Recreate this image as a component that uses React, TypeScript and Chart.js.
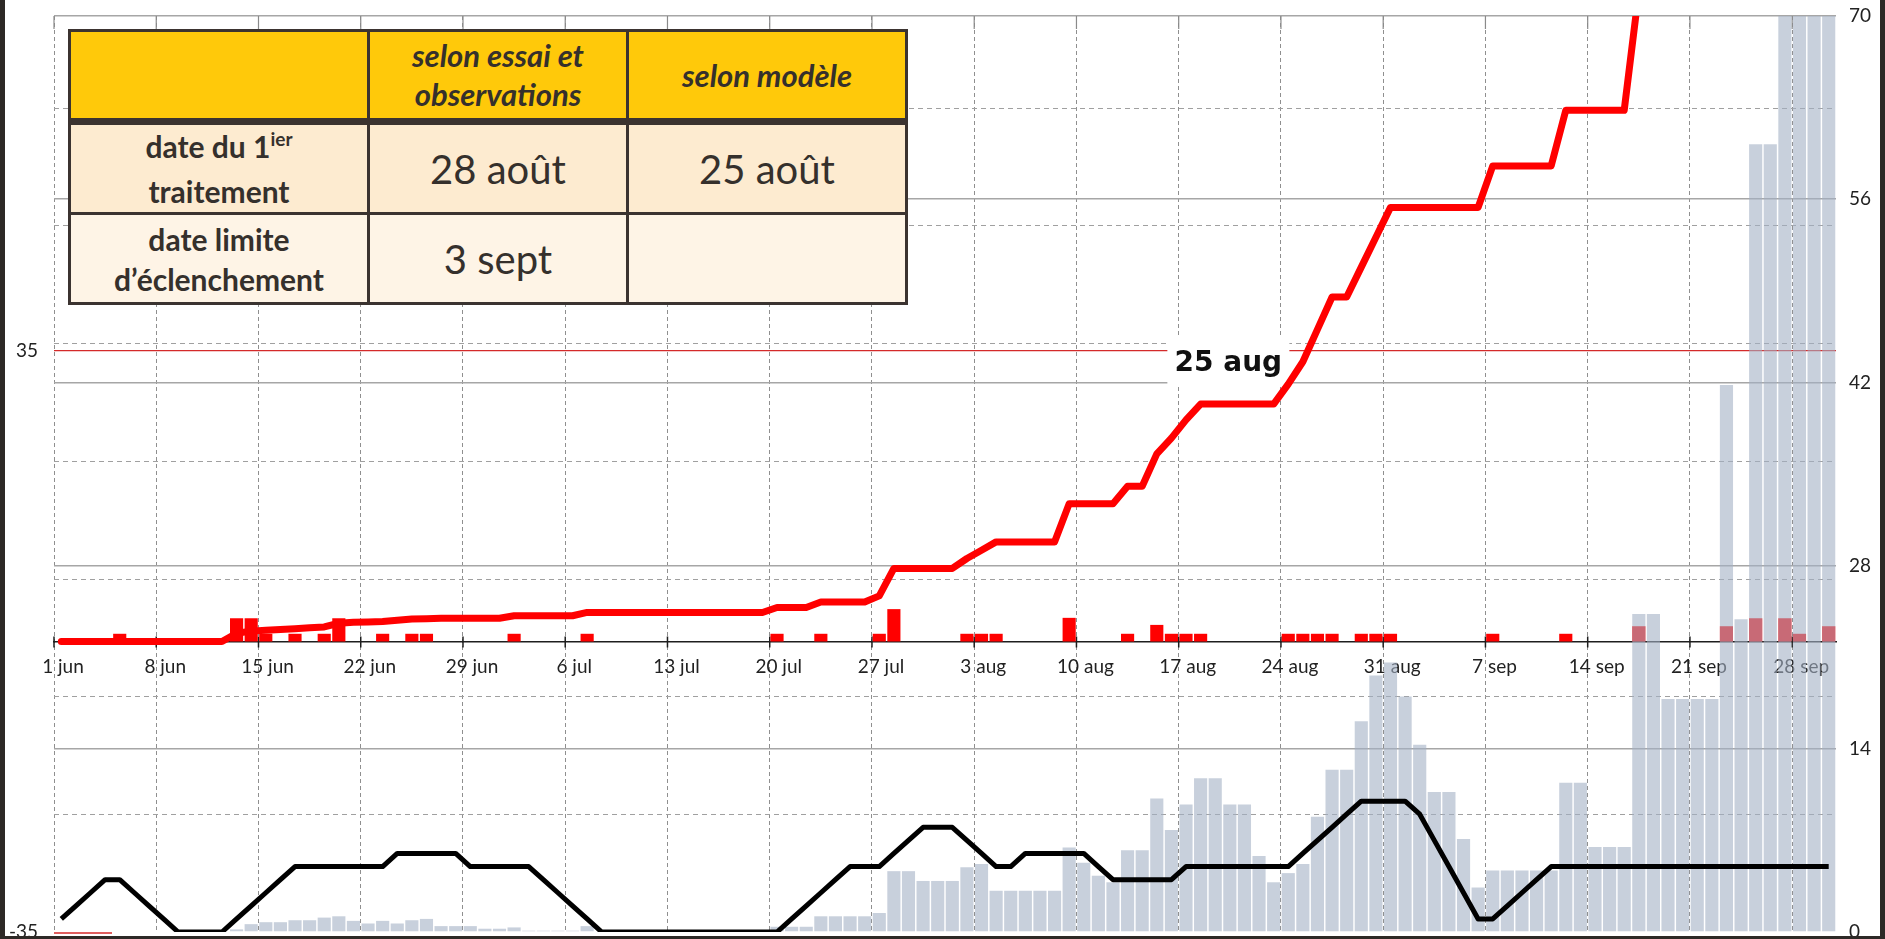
import React, { useEffect, useRef } from "react";
import { Chart, registerables } from "chart.js";

Chart.register(...registerables);

const W = 1885;
const H = 939;

// x axis: day index, 0 = 1 jun ... 121 = 30 sep
const DAY_COUNT = 122;
const TICK_DAYS = [0, 7, 14, 21, 28, 35, 42, 49, 56, 63, 70, 77, 84, 91, 98, 105, 112, 119];
const TICK_LABELS = ["1 jun", "8 jun", "15 jun", "22 jun", "29 jun", "6 jul", "13 jul", "20 jul", "27 jul", "3 aug", "10 aug", "17 aug", "24 aug", "31 aug", "7 sep", "14 sep", "21 sep", "28 sep"];
const RIGHT_TICKS = [0, 14, 28, 42, 56, 70];
const LEFT_TICKS = [-35, 35];
const MINOR_LEVELS = [9, 18, 27, 36, 45, 54, 63];
const THRESHOLD = 35;
const THRESHOLD_LABEL = "25 aug";
const THRESHOLD_LABEL_DAY = 80.4;

// cumulative index (left axis), one value per day
const RED_CUMUL: (number | null)[] = [
  0, 0, 0, 0, 0, 0, 0, 0, 0, 0, 0, 0,
  1.0, 1.25, 1.35, 1.45, 1.55, 1.65, 1.75, 2.2,
  2.33, 2.35, 2.4, 2.55, 2.7, 2.75, 2.8, 2.8, 2.8, 2.8, 2.8,
  3.1, 3.1, 3.1, 3.1, 3.1,
  3.5, 3.5, 3.5, 3.5, 3.5, 3.5, 3.5, 3.5, 3.5, 3.5, 3.5, 3.5, 3.5,
  4.1, 4.1, 4.1,
  4.75, 4.75, 4.75, 4.75,
  5.5,
  8.8, 8.8, 8.8, 8.8, 8.8,
  10.0, 11.0,
  12, 12, 12, 12, 12,
  16.6, 16.6, 16.6, 16.6,
  18.7, 18.7,
  22.6, 24.5, 26.7,
  28.6, 28.6, 28.6, 28.6, 28.6, 28.6,
  31.0, 33.7, 37.6,
  41.5, 41.5,
  45.1, 48.7,
  52.3, 52.3, 52.3, 52.3, 52.3, 52.3, 52.3,
  57.3, 57.3, 57.3, 57.3, 57.3,
  64, 64, 64, 64, 64,
  78.3,
  null, null, null, null, null, null, null, null, null, null, null, null, null,
];

// daily red events (left axis)
const RAIN_DAYS = [4, 12, 13, 14, 16, 18, 19, 22, 24, 25, 31, 36, 49, 52, 56, 57, 62, 63, 64, 69, 73, 75, 76, 77, 78, 84, 85, 86, 87, 89, 90, 91, 98, 103, 108, 114, 116, 118, 119, 121];
const RAIN_VALUES = [0.93, 2.8, 2.8, 0.93, 0.93, 0.93, 2.8, 0.93, 0.93, 0.93, 0.93, 0.93, 0.93, 0.93, 0.93, 3.9, 0.93, 0.93, 0.93, 2.85, 0.93, 2.0, 0.93, 0.93, 0.93, 0.93, 0.93, 0.93, 0.93, 0.93, 0.93, 0.93, 0.93, 0.93, 1.84, 1.84, 2.8, 2.8, 0.93, 1.84];

// daily grey bars (right axis)
const GREY_BARS = [
  0, 0, 0, 0, 0, 0, 0, 0, 0, 0, 0, 0,
  0.2, 0.6, 0.75, 0.75, 0.9, 0.9, 1.1, 1.2, 0.85, 0.65, 0.85, 0.65, 0.9, 1.0, 0.45, 0.45, 0.45, 0.25, 0.25, 0.35, 0.1, 0.1, 0.1, 0.1, 0.45,
  0, 0, 0, 0, 0, 0, 0, 0, 0, 0, 0, 0,
  0.4, 0.4, 0.4, 1.2, 1.2, 1.2, 1.2, 1.45,
  4.65, 4.65, 3.9, 3.9, 3.9, 4.95, 5.2,
  3.15, 3.15, 3.15, 3.15, 3.15,
  6.45, 5.3, 4.3, 3.8,
  6.25, 6.25, 10.2, 7.8, 9.75, 11.75, 11.75, 9.75, 9.75, 5.8, 3.8, 4.5, 5.2, 8.8, 12.4, 12.4,
  16.1, 19.6, 20.6, 18.0, 14.3, 10.7, 10.7, 7.1, 3.4,
  4.7, 4.7, 4.7, 4.7, 4.7,
  11.4, 11.4, 6.5, 6.5, 6.5,
  24.3, 24.3, 17.8, 17.8, 17.8, 17.8,
  41.8, 23.9, 60.2, 60.2, 70, 70, 70, 70,
];

// daily black line (right axis)
const BLACK_LINE = [
  1, 2, 3, 4, 4, 3, 2, 1, 0,
  0, 0, 0,
  1, 2, 3, 4, 5,
  5, 5, 5, 5, 5, 5,
  6, 6, 6, 6, 6,
  5, 5, 5, 5, 5,
  4, 3, 2, 1, 0,
  0, 0, 0, 0, 0, 0, 0, 0, 0, 0, 0, 0,
  1, 2, 3, 4, 5,
  5, 5,
  6, 7, 8,
  8, 8,
  7, 6, 5,
  5,
  6, 6, 6, 6, 6,
  5, 4,
  4, 4, 4, 4,
  5, 5, 5, 5, 5, 5, 5, 5,
  6, 7, 8, 9, 10,
  10, 10, 10,
  9, 7, 5, 3, 1,
  1, 2, 3, 4, 5,
  5, 5, 5, 5, 5, 5, 5, 5, 5, 5, 5, 5, 5, 5, 5, 5, 5, 5, 5,
];

const FONT = "Lato";
const TXT = "#35302c";

const overlay = {
  id: "overlay",
  beforeDatasetsDraw(chart: any) {
    const { ctx, chartArea: a, scales } = chart;
    const x = scales.x;
    const yl = scales.y;
    const yr = scales.y1;
    const line = (x1: number, y1: number, x2: number, y2: number) => {
      ctx.beginPath();
      ctx.moveTo(x1, y1);
      ctx.lineTo(x2, y2);
      ctx.stroke();
    };
    ctx.save();
    ctx.strokeStyle = "#a0a0a0";
    ctx.lineWidth = 1;
    ctx.setLineDash([5, 4]);
    for (const v of MINOR_LEVELS) {
      const py = Math.round(yr.getPixelForValue(v)) + 0.5;
      line(a.left, py, a.right, py);
    }
    ctx.setLineDash([]);
    ctx.strokeStyle = "#8a8a8a";
    ctx.lineWidth = 1.2;
    for (const d of TICK_DAYS) {
      const px = x.getPixelForValue(d);
      line(px, a.top, px, a.top + 13);
    }
    const y0 = yl.getPixelForValue(0);
    ctx.strokeStyle = "#1e1e1e";
    ctx.lineWidth = 1.5;
    for (const d of TICK_DAYS) {
      const px = x.getPixelForValue(d);
      line(px, y0 - 5, px, y0 + 6);
    }
    ctx.strokeStyle = "#d42a2a";
    ctx.lineWidth = 1.5;
    line(a.left, a.bottom + 1, a.left + 58, a.bottom + 1);
    const cx = x.getPixelForValue(THRESHOLD_LABEL_DAY);
    const ty = yl.getPixelForValue(THRESHOLD);
    ctx.fillStyle = "#ffffff";
    ctx.fillRect(cx - 61, ty - 14, 122, 49);
    ctx.fillStyle = "#111111";
    ctx.font = 'bold 28px "DejaVu Sans"';
    ctx.textAlign = "center";
    ctx.textBaseline = "alphabetic";
    ctx.fillText(THRESHOLD_LABEL, cx, ty + 20);
    ctx.restore();
  },
};

function Cell(props: { l: number; t: number; w: number; h: number; bg: string; children?: any }) {
  return (
    <div
      style={{
        position: "absolute",
        left: props.l,
        top: props.t,
        width: props.w,
        height: props.h,
        background: props.bg,
        display: "flex",
        flexDirection: "column",
        alignItems: "center",
        justifyContent: "center",
        textAlign: "center",
        color: TXT,
        fontFamily: FONT + ", sans-serif",
      }}
    >
      {props.children}
    </div>
  );
}

export default function App() {
  const ref = useRef<HTMLCanvasElement>(null);

  useEffect(() => {
    const canvas = ref.current;
    if (!canvas) return;
    const redPts = RED_CUMUL.map((v, i) => ({ x: i + 0.5, y: v }));
    const blackPts = BLACK_LINE.map((v, i) => ({ x: i + 0.5, y: v }));
    const greyPts = GREY_BARS.map((v, i) => ({ x: i + 0.5, y: v }));
    const rainPts = RAIN_DAYS.map((d, i) => ({ x: d + 0.5, y: RAIN_VALUES[i] }));
    const tickFont = { family: FONT, size: 19 };

    const chart = new Chart(canvas, {
      type: "bar",
      data: {
        datasets: [
          {
            type: "line",
            label: "cumul",
            data: redPts,
            xAxisID: "x",
            yAxisID: "y",
            borderColor: "#ff0000",
            borderWidth: 7,
            pointRadius: 0,
            tension: 0,
            borderCapStyle: "round",
            borderJoinStyle: "round",
            spanGaps: false,
            clip: 0,
            order: 1,
          } as any,
          {
            type: "line",
            label: "black",
            data: blackPts,
            xAxisID: "x",
            yAxisID: "y1",
            borderColor: "#000000",
            borderWidth: 5,
            pointRadius: 0,
            tension: 0,
            borderJoinStyle: "round",
            order: 2,
          } as any,
          {
            type: "bar",
            label: "grey",
            data: greyPts,
            xAxisID: "x",
            yAxisID: "y1",
            backgroundColor: "rgba(163,177,197,0.6)",
            grouped: false,
            barPercentage: 0.9,
            categoryPercentage: 1,
            order: 3,
          } as any,
          {
            type: "bar",
            label: "rain",
            data: rainPts,
            xAxisID: "x",
            yAxisID: "y",
            backgroundColor: "#ff0000",
            grouped: false,
            barPercentage: 0.9,
            categoryPercentage: 1,
            order: 4,
          } as any,
        ],
      },
      options: {
        responsive: false,
        animation: false,
        events: [],
        layout: { padding: { top: 16, bottom: 7, left: 0, right: 0 } },
        plugins: { legend: { display: false }, tooltip: { enabled: false } },
        scales: {
          x: {
            type: "linear",
            min: 0,
            max: DAY_COUNT,
            offset: false,
            position: { y: 0 } as any,
            afterBuildTicks: (s: any) => {
              s.ticks = TICK_DAYS.map((v) => ({ value: v }));
            },
            afterFit: (s: any) => {
              s.height = 0;
              s.paddingLeft = 0;
              s.paddingRight = 0;
            },
            ticks: {
              autoSkip: false,
              maxRotation: 0,
              minRotation: 0,
              labelOffset: 9,
              padding: 14,
              color: "#222222",
              font: tickFont,
              callback: (_v: any, i: number) => TICK_LABELS[i],
            },
            grid: { color: "#8f8f8f", lineWidth: 1, drawTicks: false, offset: false },
            border: { display: true, color: "#1e1e1e", width: 1.5, dash: [4, 3] },
          },
          y: {
            type: "linear",
            position: "left",
            min: -35,
            max: 75.36,
            afterBuildTicks: (s: any) => {
              s.ticks = LEFT_TICKS.map((v) => ({ value: v }));
            },
            afterFit: (s: any) => {
              s.width = 54;
              s.paddingTop = 0;
              s.paddingBottom = 0;
            },
            ticks: { padding: 16, color: "#222222", font: tickFont },
            grid: {
              drawTicks: false,
              lineWidth: 1.3,
              color: (c: any) => (c.tick && c.tick.value === THRESHOLD ? "#d42a2a" : "rgba(0,0,0,0)"),
            },
            border: { display: false },
          },
          y1: {
            type: "linear",
            position: "right",
            min: 0,
            max: 70,
            afterBuildTicks: (s: any) => {
              s.ticks = RIGHT_TICKS.map((v) => ({ value: v }));
            },
            afterFit: (s: any) => {
              s.width = 49;
              s.paddingTop = 0;
              s.paddingBottom = 0;
            },
            ticks: { padding: 13, color: "#222222", font: tickFont },
            grid: {
              drawTicks: false,
              lineWidth: 1.5,
              color: (c: any) => (c.tick && c.tick.value === 0 ? "rgba(0,0,0,0)" : "#a6a6a6"),
            },
            border: { display: false },
          },
        },
      } as any,
      plugins: [overlay],
    });
    return () => chart.destroy();
  }, []);

  const headStyle = { fontWeight: 700, fontStyle: "italic", fontSize: 31, lineHeight: "39px" } as const;
  const rowHead = { fontWeight: 700, fontSize: 30, lineHeight: "40px" } as const;
  const bigVal = { fontWeight: 400, fontSize: 40, lineHeight: "46px" } as const;
  const GOLD = "#FFC90A";
  const PEACH = "#FDEBD0";
  const CREAM = "#FEF4E6";

  return (
    <div style={{ position: "fixed", left: 0, top: 0, width: W, height: H, background: "#ffffff", overflow: "hidden" }}>
      <canvas ref={ref} width={W} height={H} style={{ position: "absolute", left: 0, top: 0, width: W, height: H }} />
      <div style={{ position: "absolute", left: 68, top: 29, width: 840, height: 276, background: "#3b3330" }} />
      <Cell l={71} t={32} w={296} h={86} bg={GOLD} />
      <Cell l={370} t={32} w={256} h={86} bg={GOLD}>
        <div style={headStyle}>selon essai et</div>
        <div style={headStyle}>observations</div>
      </Cell>
      <Cell l={629} t={32} w={276} h={86} bg={GOLD}>
        <div style={headStyle}>selon modèle</div>
      </Cell>
      <Cell l={71} t={125} w={296} h={87} bg={PEACH}>
        <div style={rowHead}>
          date du 1
          <span style={{ fontSize: 19, position: "relative", top: -12 }}>ier</span>
        </div>
        <div style={rowHead}>traitement</div>
      </Cell>
      <Cell l={370} t={125} w={256} h={87} bg={PEACH}>
        <div style={bigVal}>28 août</div>
      </Cell>
      <Cell l={629} t={125} w={276} h={87} bg={PEACH}>
        <div style={bigVal}>25 août</div>
      </Cell>
      <Cell l={71} t={215} w={296} h={87} bg={CREAM}>
        <div style={rowHead}>date limite</div>
        <div style={rowHead}>d’éclenchement</div>
      </Cell>
      <Cell l={370} t={215} w={256} h={87} bg={CREAM}>
        <div style={bigVal}>3 sept</div>
      </Cell>
      <Cell l={629} t={215} w={276} h={87} bg={CREAM} />
      <div style={{ position: "absolute", left: 0, top: 0, width: 5, height: H, background: "#2d2926" }} />
      <div style={{ position: "absolute", left: W - 5, top: 0, width: 5, height: H, background: "#2d2926" }} />
      <div style={{ position: "absolute", left: 0, top: H - 3, width: W, height: 3, background: "#2d2926" }} />
    </div>
  );
}
